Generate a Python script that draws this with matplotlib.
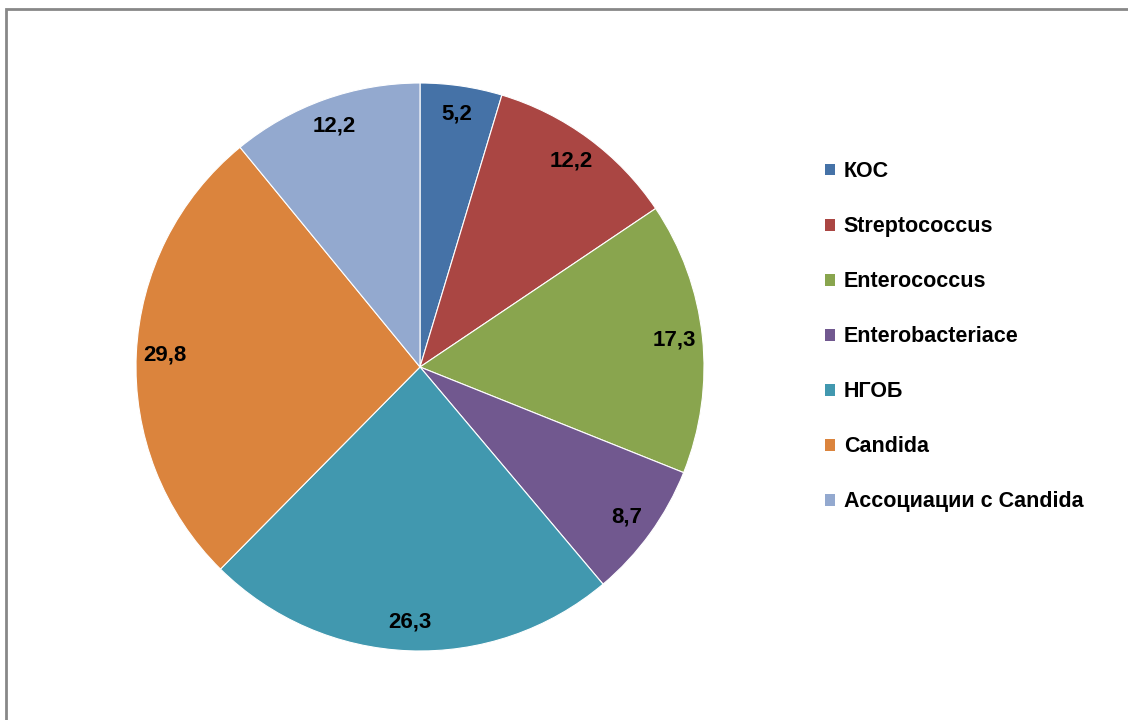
import matplotlib.pyplot as plt
from matplotlib.patches import Patch, Rectangle
from matplotlib import font_manager

# data
labels = ["КОС", "Streptococcus", "Enterococcus", "Enterobacteriace",
          "НГОБ", "Candida", "Ассоциации с Candida"]
values = [5.2, 12.2, 17.3, 8.7, 26.3, 29.8, 12.2]
value_text = ["5,2", "12,2", "17,3", "8,7", "26,3", "29,8", "12,2"]
colors = ["#4572A7", "#AA4643", "#89A54E", "#71588F",
          "#4198AF", "#DB843D", "#93A9CF"]

names = {f.name for f in font_manager.fontManager.ttflist}
fam = "Liberation Sans Narrow" if "Liberation Sans Narrow" in names else "Liberation Sans"
plt.rcParams['font.family'] = [fam, 'DejaVu Sans']

fig = plt.figure(figsize=(11.28, 7.2), dpi=100)

# outer frame of the chart area
fig.patches.append(Rectangle((6 / 1128, -0.05), 1.1, (720 - 9) / 720 + 0.05,
                             transform=fig.transFigure, fill=False,
                             edgecolor="#888888", linewidth=2))

ax = fig.add_axes([136 / 1128, 69 / 720, 568 / 1128, 568 / 720])
wedges, texts = ax.pie(values, colors=colors, startangle=90, counterclock=False,
                       radius=1, labels=value_text, labeldistance=0.9,
                       wedgeprops=dict(edgecolor="white", linewidth=0.8),
                       textprops=dict(fontsize=16, fontweight="bold", color="black",
                                      ha="center", va="center"))
for t in texts:
    t.set_horizontalalignment("center")
ax.set_xlim(-1, 1)
ax.set_ylim(-1, 1)
ax.set_aspect("equal")

handles = [Patch(facecolor=c, edgecolor="none") for c in colors]
fig.legend(handles, labels, loc="upper left", bbox_to_anchor=(806 / 1128, 1 - 142 / 720),
           frameon=False, prop=dict(family=[fam, 'DejaVu Sans'], size=15.5, weight="bold"),
           handlelength=0.45, handleheight=0.45, handletextpad=0.4,
           labelspacing=1.58)

fig.savefig("out.png", dpi=100)
